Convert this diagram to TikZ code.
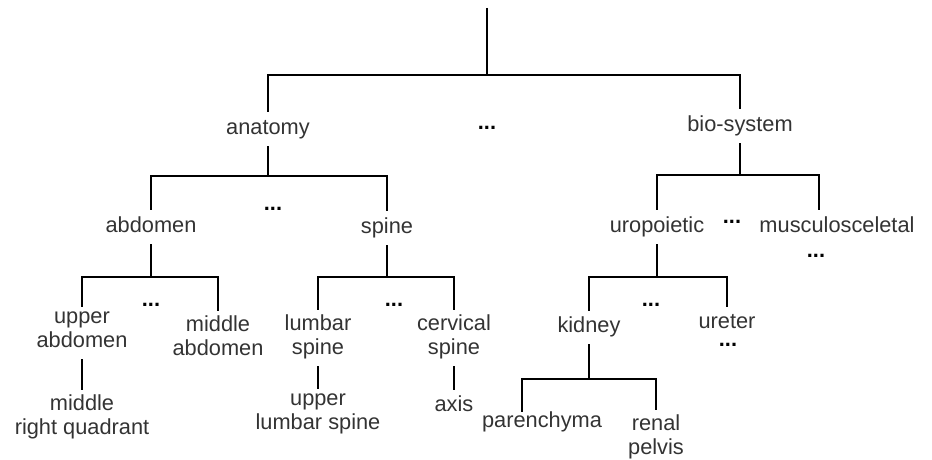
\documentclass[tikz,border=0pt]{standalone}
\usepackage{fontspec}
\setmainfont{Liberation Sans}

\tikzstyle{term} = [text=black!80, font=\fontsize{18.6}{20.5}\selectfont, align=center,
inner xsep=2pt, inner ysep=0.14cm, anchor=north,
execute at begin node=\strut, execute at end node=\strut]
\tikzstyle{gap} = [text=black, font=\fontsize{18.6}{20.5}\selectfont\bfseries, inner sep=0pt, anchor=base]
\tikzstyle{branch} = [draw, line width=2.4pt]

\begin{document}
\begin{tikzpicture}[x=0.03cm, y=-0.03cm]
\useasboundingbox (0,0) rectangle (932,460);

	%Top level of the hierarchy
	\coordinate (root) at (487,8);
	\coordinate (rootbar) at (487,75);
	\node[term](anatomy) at (268,112.5) {anatomy};
	\node[gap](more1) at (487,130) {...};
	\node[term](biosystem) at (740,109.5) {bio-system};

	%Anatomy branch
	\coordinate (anatbar) at (268,176);
	\node[term](abdomen) at (151,210.5) {abdomen};
	\node[gap](more2) at (273,211) {...};
	\node[term](spine) at (387,211.5) {spine};

	\coordinate (abdbar) at (151,277);
	\node[term](upperab) at (82,306.5) {upper\\abdomen};
	\node[gap](more3) at (151,306) {...};
	\node[term](middleab) at (218,310.5) {middle\\abdomen};
	\node[term](quadrant) at (82,389.5) {middle\\right quadrant};

	\coordinate (spinebar) at (387,277);
	\node[term](lumbar) at (318,309.5) {lumbar\\spine};
	\node[gap](more4) at (394,306) {...};
	\node[term](cervical) at (454,309.5) {cervical\\spine};
	\node[term](upperlumbar) at (318,388.5) {upper\\lumbar spine};
	\node[term](axis) at (454,389.5) {axis};

	%Bio-system branch
	\coordinate (biobar) at (740,175);
	\node[term](uropoietic) at (657,210.5) {uropoietic};
	\node[gap](more5) at (732,224) {...};
	\node[term](musculo) at (837,210.5) {musculosceletal};
	\node[gap](more8) at (816,258) {...};

	\coordinate (urobar) at (657,277);
	\node[term](kidney) at (589,310.5) {kidney};
	\node[gap](more6) at (651,306) {...};
	\node[term](ureter) at (727,306.5) {ureter};
	\node[gap](more7) at (728,346) {...};

	\coordinate (kidbar) at (589,379);
	\node[term](parench) at (542,405.5) {parenchyma};
	\node[term](renal) at (656,409.5) {renal\\pelvis};

	%Connectors
	\path[branch] (root) -- (rootbar);
	\path[branch] (rootbar) -| (anatomy);
	\path[branch] (rootbar) -| (biosystem);

	\path[branch] (anatomy) -- (anatbar);
	\path[branch] (anatbar) -| (abdomen);
	\path[branch] (anatbar) -| (spine);

	\path[branch] (abdomen) -- (abdbar);
	\path[branch] (abdbar) -| (upperab);
	\path[branch] (abdbar) -| (middleab);
	\path[branch] (upperab) -- (quadrant);

	\path[branch] (spine) -- (spinebar);
	\path[branch] (spinebar) -| (lumbar);
	\path[branch] (spinebar) -| (cervical);
	\path[branch] (lumbar) -- (upperlumbar);
	\path[branch] (cervical) -- (axis);

	\path[branch] (biosystem) -- (biobar);
	\path[branch] (biobar) -| (uropoietic);
	\path[branch] (biobar) -| ([xshift=-0.54cm]musculo.north);

	\path[branch] (uropoietic) -- (urobar);
	\path[branch] (urobar) -| (kidney);
	\path[branch] (urobar) -| (ureter);

	\path[branch] (kidney) -- (kidbar);
	\path[branch] (kidbar) -| ([xshift=-0.6cm,yshift=-0.2cm]parench.north);
	\path[branch] (kidbar) -| (renal);
\end{tikzpicture}
\end{document}
